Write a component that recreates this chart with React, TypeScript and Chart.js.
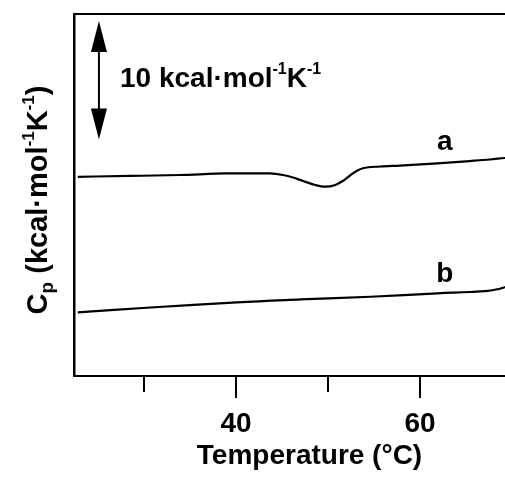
import React, { useEffect, useRef } from 'react';
import { Chart, registerables } from 'chart.js';

Chart.register(...registerables);

// ---- data ----
const temperatureA = [22.8, 28.5, 33.9, 39.0, 41.5, 43.7, 45.1, 46.2, 47.3, 48.6, 49.7, 50.8, 51.6, 52.4, 53.2, 53.8, 55.7, 57.8, 61.9, 65.4, 67.6, 69.2, 69.8];
const cpA = [16.84, 16.91, 16.99, 17.12, 17.13, 17.12, 16.99, 16.78, 16.48, 16.15, 16.0, 16.15, 16.48, 16.95, 17.37, 17.56, 17.71, 17.79, 17.98, 18.17, 18.3, 18.43, 18.47];
const temperatureB = [22.8, 30.7, 40.1, 47.0, 54.6, 61.9, 65.5, 67.4, 68.4, 69.2, 69.8];
const cpB = [5.38, 5.79, 6.23, 6.47, 6.7, 6.99, 7.1, 7.2, 7.33, 7.5, 7.6];

const majorTicks = [40, 60];
const minorTicks = [30, 50];
const xTitle = 'Temperature (°C)';
const curveNames = ['a', 'b'];
const scaleBarKcal = 10;

const FONT = '"Liberation Sans", Arial, sans-serif';

type Part = { t: string; size: number; dy: number };

function partsWidth(ctx: CanvasRenderingContext2D, parts: Part[]) {
  let w = 0;
  for (const p of parts) {
    ctx.font = `bold ${p.size}px ${FONT}`;
    w += ctx.measureText(p.t).width;
  }
  return w;
}

function drawParts(ctx: CanvasRenderingContext2D, x: number, y: number, parts: Part[]) {
  let cx = x;
  ctx.textAlign = 'left';
  ctx.textBaseline = 'alphabetic';
  for (const p of parts) {
    ctx.font = `bold ${p.size}px ${FONT}`;
    ctx.fillText(p.t, cx, y + p.dy);
    cx += ctx.measureText(p.t).width;
  }
}

const decorPlugin = {
  id: 'decor',
  afterDatasetsDraw(chart: any) {
    const ctx: CanvasRenderingContext2D = chart.ctx;
    const area = chart.chartArea;
    const xs = chart.scales.x;
    const ys = chart.scales.y;
    ctx.save();
    ctx.fillStyle = '#000';
    ctx.strokeStyle = '#000';

    // top frame line
    ctx.lineWidth = 2;
    ctx.beginPath();
    ctx.moveTo(area.left, area.top);
    ctx.lineTo(area.right, area.top);
    ctx.stroke();

    // tick marks
    ctx.lineWidth = 2;
    for (const v of majorTicks) {
      const px = Math.round(xs.getPixelForValue(v));
      ctx.beginPath();
      ctx.moveTo(px, area.bottom);
      ctx.lineTo(px, area.bottom + 22);
      ctx.stroke();
    }
    for (const v of minorTicks) {
      const px = Math.round(xs.getPixelForValue(v));
      ctx.beginPath();
      ctx.moveTo(px, area.bottom);
      ctx.lineTo(px, area.bottom + 16);
      ctx.stroke();
    }

    // scale bar arrow (10 kcal)
    const ax = xs.getPixelForValue(25.1);
    const yTop = ys.getPixelForValue(30);
    const yBot = ys.getPixelForValue(30 - scaleBarKcal);
    const headL = 31;
    const headW = 8;
    ctx.lineWidth = 2;
    ctx.beginPath();
    ctx.moveTo(ax, yTop + headL - 2);
    ctx.lineTo(ax, yBot - headL + 2);
    ctx.stroke();
    ctx.beginPath();
    ctx.moveTo(ax, yTop);
    ctx.lineTo(ax - headW, yTop + headL);
    ctx.lineTo(ax + headW, yTop + headL);
    ctx.closePath();
    ctx.fill();
    ctx.beginPath();
    ctx.moveTo(ax, yBot);
    ctx.lineTo(ax - headW, yBot - headL);
    ctx.lineTo(ax + headW, yBot - headL);
    ctx.closePath();
    ctx.fill();

    drawParts(ctx, 120, 87, [
      { t: `${scaleBarKcal} kcal·mol`, size: 28, dy: 0 },
      { t: '-1', size: 16, dy: -13 },
      { t: 'K', size: 28, dy: 0 },
      { t: '-1', size: 16, dy: -13 },
    ]);

    // curve labels
    ctx.font = `bold 28px ${FONT}`;
    ctx.textAlign = 'center';
    ctx.textBaseline = 'alphabetic';
    ctx.fillText(curveNames[0], xs.getPixelForValue(62.7), ys.getPixelForValue(19.1));
    ctx.fillText(curveNames[1], xs.getPixelForValue(62.7), ys.getPixelForValue(7.95));

    // y title (rotated)
    const yParts: Part[] = [
      { t: 'C', size: 29, dy: 0 },
      { t: 'p', size: 19, dy: 6 },
      { t: ' (kcal·mol', size: 29, dy: 0 },
      { t: '-1', size: 17, dy: -13 },
      { t: 'K', size: 29, dy: 0 },
      { t: '-1', size: 17, dy: -13 },
      { t: ')', size: 29, dy: 0 },
    ];
    ctx.save();
    ctx.translate(47, 200);
    ctx.rotate(-Math.PI / 2);
    const w = partsWidth(ctx, yParts);
    drawParts(ctx, -w / 2, 0, yParts);
    ctx.restore();

    ctx.restore();
  },
};

export default function App() {
  const canvasRef = useRef<HTMLCanvasElement | null>(null);

  useEffect(() => {
    const canvas = canvasRef.current;
    if (!canvas) return;
    const chart = new Chart(canvas, {
      type: 'line',
      data: {
        datasets: [
          {
            label: curveNames[0],
            data: temperatureA.map((t, i) => ({ x: t, y: cpA[i] })),
            borderColor: '#000',
            borderWidth: 2.2,
            pointRadius: 0,
            cubicInterpolationMode: 'monotone',
            fill: false,
          },
          {
            label: curveNames[1],
            data: temperatureB.map((t, i) => ({ x: t, y: cpB[i] })),
            borderColor: '#000',
            borderWidth: 2.2,
            pointRadius: 0,
            tension: 0.4,
            fill: false,
          },
        ],
      },
      options: {
        responsive: false,
        animation: false,
        devicePixelRatio: 1,
        layout: { padding: { top: 14, left: 0, right: 0, bottom: 0 } },
        plugins: { legend: { display: false }, tooltip: { enabled: false } },
        events: [],
        scales: {
          x: {
            type: 'linear',
            min: 22.39,
            max: 73.59,
            afterFit: (s: any) => {
              s.height = 101;
            },
            grid: { display: false, drawTicks: false },
            border: { display: true, color: '#000', width: 2 },
            ticks: {
              stepSize: 10,
              includeBounds: false,
              autoSkip: false,
              maxRotation: 0,
              padding: 31,
              color: '#000',
              font: { family: FONT, size: 28, weight: 'bold' },
              callback: (v: any) => (majorTicks.includes(Number(v)) ? String(v) : ''),
            },
            title: {
              display: true,
              text: xTitle,
              color: '#000',
              font: { family: FONT, size: 28, weight: 'bold' },
              padding: { top: 0, bottom: 4 },
            },
          },
          y: {
            type: 'linear',
            min: 0,
            max: 30.6,
            afterFit: (s: any) => {
              s.width = 74;
            },
            grid: { display: false, drawTicks: false },
            border: { display: true, color: '#000', width: 2.5 },
            ticks: { display: false },
          },
        },
      } as any,
      plugins: [decorPlugin],
    });
    return () => chart.destroy();
  }, []);

  return (
    <div
      style={{
        position: 'fixed',
        left: 0,
        top: 0,
        width: 505,
        height: 477,
        overflow: 'hidden',
        background: '#fff',
      }}
    >
      <canvas ref={canvasRef} width={545} height={477} style={{ display: 'block' }} />
    </div>
  );
}
